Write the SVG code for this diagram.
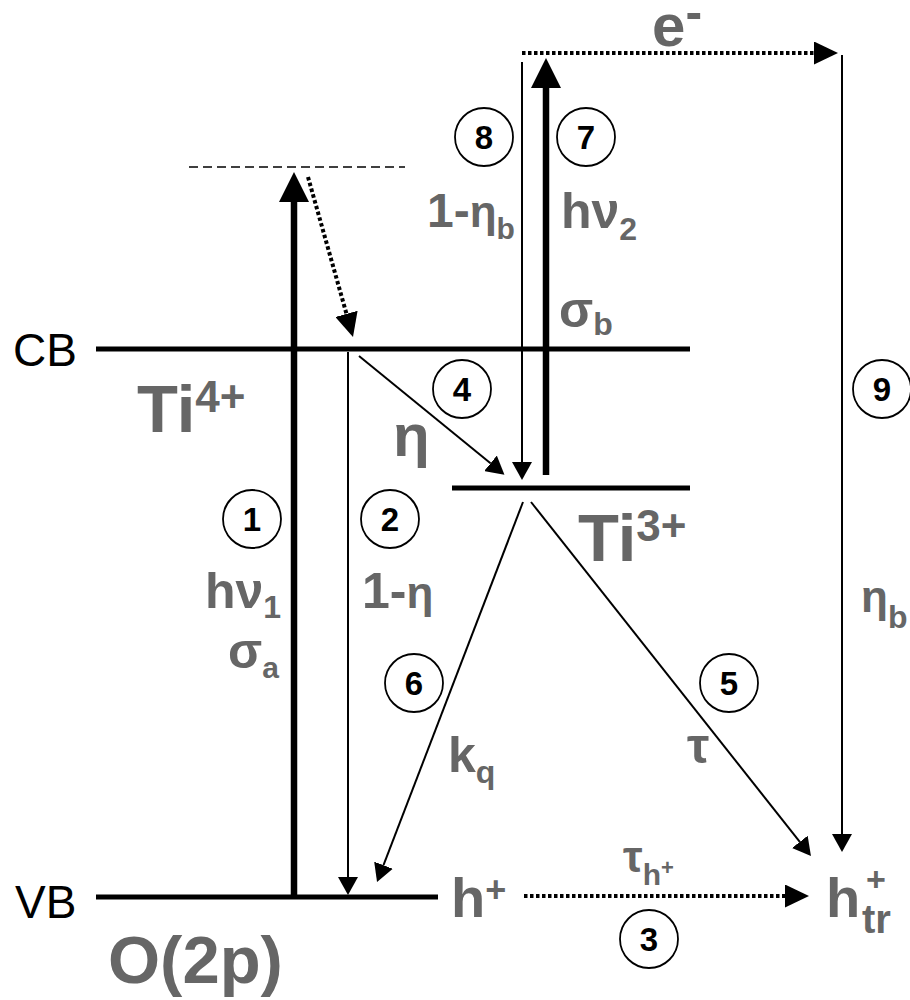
<svg xmlns="http://www.w3.org/2000/svg" width="910" height="1000" viewBox="0 0 910 1000">
<style>
.lvl{stroke:#000;stroke-width:5;fill:none}
.thick{stroke:#000;stroke-width:6.5;fill:none}
.thin{stroke:#000;stroke-width:2;fill:none}
.dot{stroke:#000;stroke-width:4;stroke-dasharray:3.5 2.5;fill:none}
.dash{stroke:#000;stroke-width:1.6;stroke-dasharray:9 5;fill:none}
.lbl{font-family:"Liberation Sans",Arial,sans-serif;font-weight:bold;fill:#666666}
.band{font-family:"Liberation Sans",Arial,sans-serif;font-size:46px;fill:#000}
.num circle{fill:#fff;stroke:#000;stroke-width:1.8}
.num text{font-family:"Liberation Sans",Arial,sans-serif;font-weight:bold;font-size:33px;fill:#000;text-anchor:middle}
</style>
<defs>
<marker id="big" markerUnits="userSpaceOnUse" viewBox="0 -15 30 30" refX="0" refY="0" markerWidth="30" markerHeight="30" orient="auto"><path d="M0,-15 L30,0 L0,15 z" fill="#000"/></marker>
<marker id="small" markerUnits="userSpaceOnUse" viewBox="0 -10 18 20" refX="0" refY="0" markerWidth="18" markerHeight="20" orient="auto"><path d="M0,-10 L18,0 L0,10 z" fill="#000"/></marker>
<marker id="dothead" markerUnits="userSpaceOnUse" viewBox="0 -11.5 24 23" refX="0" refY="0" markerWidth="24" markerHeight="23" orient="auto"><path d="M0,-11.5 L24,0 L0,11.5 z" fill="#000"/></marker>
</defs>

<g id="levels">
<line class="lvl" x1="96" y1="349" x2="690" y2="349"/>
<line class="lvl" x1="96" y1="897" x2="438" y2="897"/>
<line class="lvl" x1="452" y1="488" x2="690" y2="488"/>
<line class="dash" x1="189" y1="167" x2="405" y2="167"/>
</g>

<g id="connectors">
<path id="c1" class="thick" d="M294,897 L294,202" marker-end="url(#big)"/>
<path id="c1b" class="dot" d="M308,177 L346.5,313.9" marker-end="url(#dothead)"/>
<path id="c2" class="thin" d="M348,352 L348,877" marker-end="url(#small)"/>
<path id="c3" class="dot" d="M524,896 L785,896" marker-end="url(#dothead)"/>
<path id="c4" class="thin" d="M359,356 L490.5,463.3" marker-end="url(#small)"/>
<path id="c5" class="thin" d="M531,502 L799.8,841.9" marker-end="url(#small)"/>
<path id="c6" class="thin" d="M523,502 L383.5,865.2" marker-end="url(#small)"/>
<path id="c7" class="thick" d="M546,475 L546,88" marker-end="url(#big)"/>
<path id="c8" class="thin" d="M522,62 L522,462" marker-end="url(#small)"/>
<path id="c9" class="thin" d="M842,55 L842,834" marker-end="url(#small)"/>
<path id="ce" class="dot" d="M522,53 L814,53" marker-end="url(#dothead)"/>
</g>

<g id="labels">
<text class="band" x="13" y="366">CB</text>
<text class="band" x="15" y="918">VB</text>
<text class="lbl" x="137" y="432" font-size="67">Ti<tspan font-size="44" dy="-20">4+</tspan></text>
<text class="lbl" x="578" y="561" font-size="67">Ti<tspan font-size="44" dy="-20">3+</tspan></text>
<text class="lbl" x="108" y="983" font-size="67">O(2p)</text>
<text class="lbl" x="652" y="46" font-size="60">e<tspan font-size="50" dy="-17">-</tspan></text>
<text class="lbl" x="393" y="456" font-size="60">η</text>
<text class="lbl" x="205" y="608" font-size="50">hν<tspan font-size="32" dy="10">1</tspan></text>
<text class="lbl" x="362" y="608" font-size="50">1-<tspan font-size="44">η</tspan></text>
<text class="lbl" x="228" y="668" font-size="50">σ<tspan font-size="30" dy="10">a</tspan></text>
<text class="lbl" x="427" y="227" font-size="48">1-<tspan font-size="44">η</tspan><tspan font-size="30" dy="12">b</tspan></text>
<text class="lbl" x="561" y="228" font-size="50">hν<tspan font-size="32" dy="12">2</tspan></text>
<text class="lbl" x="559" y="327" font-size="50">σ<tspan font-size="32" dy="8">b</tspan></text>
<text class="lbl" x="448" y="772" font-size="50">k<tspan font-size="32" dy="11">q</tspan></text>
<text class="lbl" x="687" y="763" font-size="50">τ</text>
<text class="lbl" x="861" y="612" font-size="44">η<tspan font-size="32" dy="16">b</tspan></text>
<text class="lbl" x="451" y="917" font-size="56">h<tspan font-size="36" dy="-15">+</tspan></text>
<text class="lbl" x="623" y="872" font-size="44">τ<tspan font-size="30" dy="13">h</tspan><tspan font-size="22" dy="-10">+</tspan></text>
<text class="lbl" x="826" y="917" font-size="56">h<tspan font-size="34" x="866" y="891">+</tspan><tspan font-size="40" x="862" y="933">tr</tspan></text>
</g>

<g id="n1" class="num"><circle cx="252" cy="519" r="29"/><text x="252" y="531">1</text></g>
<g id="n2" class="num"><circle cx="390" cy="519" r="29"/><text x="390" y="531">2</text></g>
<g id="n3" class="num"><circle cx="649" cy="939" r="29"/><text x="649" y="951">3</text></g>
<g id="n4" class="num"><circle cx="462" cy="389" r="29"/><text x="462" y="401">4</text></g>
<g id="n5" class="num"><circle cx="729" cy="683" r="29"/><text x="729" y="695">5</text></g>
<g id="n6" class="num"><circle cx="414" cy="683" r="29"/><text x="414" y="695">6</text></g>
<g id="n7" class="num"><circle cx="586" cy="137" r="29"/><text x="586" y="149">7</text></g>
<g id="n8" class="num"><circle cx="484" cy="137" r="29"/><text x="484" y="149">8</text></g>
<g id="n9" class="num"><circle cx="882" cy="389" r="29"/><text x="882" y="401">9</text></g>
</svg>
